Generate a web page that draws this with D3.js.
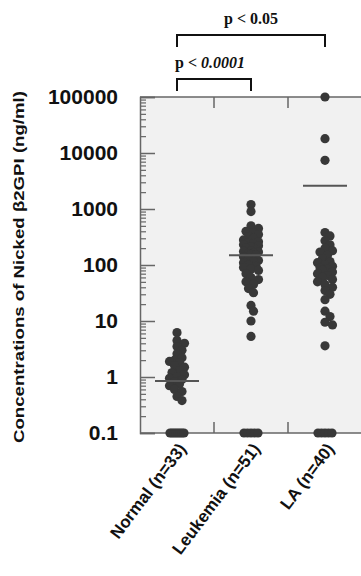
<!DOCTYPE html>
<html>
<head>
<meta charset="utf-8">
<script src="https://cdn.jsdelivr.net/npm/d3@7"></script>
<style>
  body { margin: 0; background: #fff; }
  svg text { font-family: "Liberation Sans", Arial, Helvetica, sans-serif; }
</style>
</head>
<body>
<div id="chart"></div>
<script>
// groups on the x axis
const groups = ["Normal (n=33)", "Leukemia (n=51)", "LA (n=40)"];

// individual values (ng/ml); 0 = below detection, drawn on the 0.1 line
const normalVals = [6.2, 4.5, 4.0, 3.5, 3.0, 2.6, 2.2, 2.0, 1.9, 1.8, 1.6, 1.5, 1.3,
  1.2, 1.1, 1.0, 0.95, 0.9, 0.82, 0.75, 0.7, 0.6, 0.55, 0.45, 0.38,
  0, 0, 0, 0, 0, 0, 0, 0];
const leukemiaVals = [1200, 900, 500, 450, 400, 380, 350, 320, 300, 280, 260, 250, 240,
  230, 220, 210, 200, 190, 180, 175, 170, 165, 160, 155, 150,
  140, 130, 120, 115, 110, 100, 95, 90, 85, 80, 70, 60, 55, 50, 45, 38, 32,
  19, 15, 10, 5.3,
  0, 0, 0, 0, 0];
const laVals = [100000, 18000, 7400, 380, 330, 270, 230, 200, 180, 170, 150, 130, 115,
  110, 100, 95, 90, 85, 80, 75, 70, 65, 60, 55, 50, 45, 40, 35, 30, 24, 15, 12,
  9.5, 8.5, 3.6,
  0, 0, 0, 0, 0];

// horizontal centre line of each group
const centreVals = [0.85, 150, 2600];

// y tick labels
const yTicks = [0.1, 1, 10, 100, 1000, 10000, 100000];
const yTickLabels = ["0.1", "1", "10", "100", "1000", "10000", "100000"];

// significance brackets
const brackets = [
  { from: 0, to: 2, label: "p < ", num: "0.05", italic: false, level: 0 },
  { from: 0, to: 1, label: "p < ", num: "0.0001", italic: true, level: 1 }
];

const width = 361, height = 576;
const margin = { top: 97, right: -1, bottom: 143, left: 140 };

const svg = d3.select("#chart").append("svg")
  .attr("width", width)
  .attr("height", height);

const x = d3.scaleBand()
  .domain(groups)
  .range([margin.left, width - margin.right])
  .padding(0);

const y = d3.scaleLog()
  .domain([0.1, 100000])
  .range([height - margin.bottom, margin.top]);

// plot area
svg.append("rect")
  .attr("x", margin.left)
  .attr("y", margin.top)
  .attr("width", width - margin.right - margin.left)
  .attr("height", height - margin.bottom - margin.top)
  .attr("fill", "#f1f1f1");

// minor ticks on the left axis
const minorTicks = [];
yTicks.slice(0, -1).forEach(d => {
  for (let k = 2; k <= 9; k++) minorTicks.push(d * k);
});

svg.append("g")
  .attr("transform", `translate(${margin.left},0)`)
  .call(d3.axisLeft(y).tickValues(minorTicks).tickSize(-6).tickFormat(""))
  .call(g => g.select(".domain").remove())
  .call(g => g.selectAll("line").attr("stroke", "#666").attr("stroke-width", 1.2));

const yAxis = svg.append("g")
  .attr("transform", `translate(${margin.left},0)`)
  .call(d3.axisLeft(y).tickValues(yTicks).tickSize(-15).tickPadding(22)
    .tickFormat((d, i) => yTickLabels[i]));
yAxis.select(".domain").attr("stroke", "#666").attr("stroke-width", 1.5);
yAxis.selectAll("line").attr("stroke", "#666").attr("stroke-width", 1.5);
yAxis.selectAll("text")
  .attr("fill", "#111")
  .style("font-size", "21px")
  .style("font-weight", "bold");

// top and bottom frame lines with group separators
const sepVals = groups.slice(1).map(g => x(g));
[margin.top, height - margin.bottom].forEach((yy, i) => {
  svg.append("line")
    .attr("x1", margin.left).attr("x2", width)
    .attr("y1", yy).attr("y2", yy)
    .attr("stroke", "#666").attr("stroke-width", 1.5);
  svg.selectAll(null)
    .data(sepVals)
    .join("line")
    .attr("x1", d => d).attr("x2", d => d)
    .attr("y1", yy).attr("y2", i == 0 ? yy + 11 : yy - 11)
    .attr("stroke", "#666").attr("stroke-width", 1.5);
});

// narrow beeswarm: dots pile side by side, overlapping when crowded
function swarm(vals) {
  const r = 4.6, minD = 6, step = 2.5, maxOff = 9;
  const placed = [];
  const offs = [0];
  for (let k = step; k <= maxOff; k += step) offs.push(k, -k);
  const nz = vals.filter(v => v > 0).sort((a, b) => b - a);
  nz.forEach(v => {
    const yy = y(v);
    let best = 0, bestD = -1;
    for (const off of offs) {
      const d = placed.length ? d3.min(placed, p => Math.hypot(p.dx - off, p.y - yy)) : 99;
      if (d >= minD) { best = off; bestD = 99; break; }
      if (d > bestD + 0.5) { bestD = d; best = off; }
    }
    placed.push({ dx: best, y: yy, r: r });
  });
  const zeros = vals.filter(v => v <= 0);
  zeros.forEach((v, i) => {
    const off = zeros.length > 1 ? -7 + 14 * i / (zeros.length - 1) : 0;
    placed.push({ dx: off, y: y(0.1), r: r });
  });
  return placed;
}

const allVals = [normalVals, leukemiaVals, laVals];
allVals.forEach((vals, gi) => {
  const cx = x(groups[gi]) + x.bandwidth() / 2;
  svg.append("g")
    .selectAll("circle")
    .data(swarm(vals))
    .join("circle")
    .attr("cx", d => cx + d.dx)
    .attr("cy", d => d.y)
    .attr("r", d => d.r)
    .attr("fill", "#383838");

  svg.append("line")
    .attr("x1", cx - 22).attr("x2", cx + 22)
    .attr("y1", y(centreVals[gi])).attr("y2", y(centreVals[gi]))
    .attr("stroke", "#555").attr("stroke-width", 2);
});

// x labels
svg.append("g")
  .selectAll("text")
  .data(groups)
  .join("text")
  .attr("transform", d => `translate(${x(d) + x.bandwidth() / 2 + 10},${height - margin.bottom + 16}) rotate(-53)`)
  .attr("text-anchor", "end")
  .style("font-size", "17px")
  .style("font-weight", "bold")
  .attr("fill", "#111")
  .text(d => d);

// y title
svg.append("text")
  .attr("transform", `translate(24,267) rotate(-90)`)
  .attr("text-anchor", "middle")
  .attr("textLength", 352)
  .attr("lengthAdjust", "spacingAndGlyphs")
  .style("font-size", "15px")
  .style("font-weight", "bold")
  .attr("fill", "#111")
  .text("Concentrations of Nicked β2GPI (ng/ml)");

// brackets
const bracketY = [35, 79];
brackets.forEach(b => {
  const x1 = x(groups[b.from]) + x.bandwidth() / 2;
  const x2 = x(groups[b.to]) + x.bandwidth() / 2;
  const by = bracketY[b.level];
  svg.append("path")
    .attr("d", `M${x1},${by + 12}V${by}H${x2}V${by + 12}`)
    .attr("fill", "none")
    .attr("stroke", "#111")
    .attr("stroke-width", 2);
  const t = svg.append("text")
    .attr("x", b.level == 0 ? (x1 + x2) / 2 : x1 - 2)
    .attr("y", by - 11)
    .attr("text-anchor", b.level == 0 ? "middle" : "start")
    .style("font-family", "'Liberation Serif', 'Times New Roman', serif")
    .style("font-size", "16px")
    .style("font-weight", "bold")
    .attr("fill", "#111");
  t.append("tspan").text(b.label);
  t.append("tspan").style("font-style", b.italic ? "italic" : "normal").text(b.num);
});
</script>
</body>
</html>
